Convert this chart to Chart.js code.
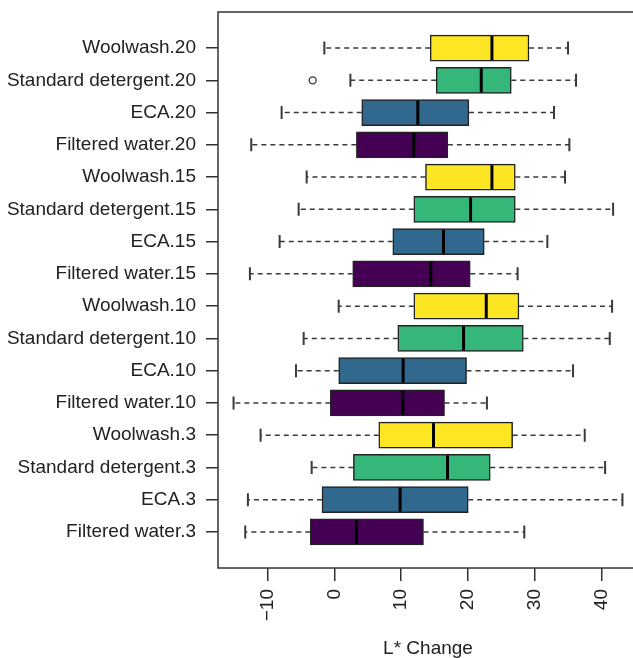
<!DOCTYPE html>
<html>
<head>
<meta charset="utf-8">
<script src="https://cdn.jsdelivr.net/npm/chart.js@4/dist/chart.umd.min.js"></script>
<style>
  html, body { margin: 0; padding: 0; background: #fff; overflow: hidden; }
  canvas { display: block; }
</style>
</head>
<body>
<canvas id="boxChart" width="650" height="658"></canvas>
<script>
// rows from bottom to top
const categories = [
  'Filtered water.3', 'ECA.3', 'Standard detergent.3', 'Woolwash.3',
  'Filtered water.10', 'ECA.10', 'Standard detergent.10', 'Woolwash.10',
  'Filtered water.15', 'ECA.15', 'Standard detergent.15', 'Woolwash.15',
  'Filtered water.20', 'ECA.20', 'Standard detergent.20', 'Woolwash.20'
];
const whiskerLow  = [-13.35, -12.95, -3.4, -11.05, -15.1, -5.75, -4.6, 0.65, -12.65, -8.2, -5.35, -4.15, -12.45, -7.9, 2.4, -1.5];
const q1          = [-3.6, -1.85, 2.85, 6.65, -0.6, 0.65, 9.5, 11.9, 2.75, 8.75, 11.9, 13.65, 3.3, 4.1, 15.25, 14.35];
const medians     = [3.3, 9.85, 16.95, 14.85, 10.25, 10.3, 19.35, 22.75, 14.45, 16.35, 20.4, 23.6, 11.9, 12.5, 22.0, 23.6];
const q3          = [13.35, 20.05, 23.35, 26.7, 16.5, 19.8, 28.3, 27.65, 20.35, 22.45, 27.1, 27.1, 17.0, 20.15, 26.5, 29.15];
const whiskerHigh = [28.45, 43.15, 40.55, 37.5, 22.85, 35.75, 41.25, 41.6, 27.45, 31.9, 41.75, 34.55, 35.2, 32.9, 36.2, 35.0];
const outlierValues = [-3.25];
const outlierRows   = ['Standard detergent.20'];
const xTicks = [-10, 0, 10, 20, 30, 40];

const treatments = ['Filtered water', 'ECA', 'Standard detergent', 'Woolwash'];
const palette = ['#440154', '#31688E', '#35B779', '#FDE725'];

const rowPos = categories.map((c, i) => i + 1);
const boxColors = categories.map(c => palette[treatments.indexOf(c.split('.')[0])]);

const boxPlugin = {
  id: 'boxParts',
  beforeDatasetsDraw(chart) {
    const ctx = chart.ctx, xs = chart.scales.x, ys = chart.scales.y;
    ctx.save();
    ctx.strokeStyle = '#3a3a3a';
    rowPos.forEach((p, i) => {
      const y = ys.getPixelForValue(p);
      const a = xs.getPixelForValue(q1[i]), lo = xs.getPixelForValue(whiskerLow[i]);
      const b = xs.getPixelForValue(q3[i]), hi = xs.getPixelForValue(whiskerHigh[i]);
      ctx.lineWidth = 1.5;
      ctx.setLineDash([5, 4]);
      ctx.beginPath();
      ctx.moveTo(a, y); ctx.lineTo(lo, y);
      ctx.moveTo(b, y); ctx.lineTo(hi, y);
      ctx.stroke();
      ctx.setLineDash([]);
      ctx.lineWidth = 2;
      ctx.beginPath();
      ctx.moveTo(lo, y - 6.5); ctx.lineTo(lo, y + 6.5);
      ctx.moveTo(hi, y - 6.5); ctx.lineTo(hi, y + 6.5);
      ctx.stroke();
    });
    ctx.restore();
  },
  afterDatasetsDraw(chart) {
    const ctx = chart.ctx, xs = chart.scales.x, ys = chart.scales.y;
    ctx.save();
    ctx.strokeStyle = '#000';
    ctx.lineWidth = 3;
    rowPos.forEach((p, i) => {
      const y = ys.getPixelForValue(p);
      const m = xs.getPixelForValue(medians[i]);
      ctx.beginPath();
      ctx.moveTo(m, y - 12); ctx.lineTo(m, y + 12);
      ctx.stroke();
    });
    // plot frame
    const ca = chart.chartArea;
    ctx.strokeStyle = '#333';
    ctx.lineWidth = 1.5;
    ctx.strokeRect(ca.left, ca.top, ca.right - ca.left, ca.bottom - ca.top);
    ctx.restore();
  }
};

const font = { family: "'Liberation Sans', Arial, sans-serif", size: 19 };

function noPad(axis) {
  axis.paddingTop = 0; axis.paddingBottom = 0;
  axis.paddingLeft = 0; axis.paddingRight = 0;
}

new Chart(document.getElementById('boxChart').getContext('2d'), {
  type: 'bar',
  data: {
    datasets: [{
      type: 'bar',
      data: rowPos.map((p, i) => ({ x: [q1[i], q3[i]], y: p })),
      backgroundColor: boxColors,
      borderColor: '#222',
      borderWidth: 1.5,
      borderSkipped: false,
      barThickness: 26
    }, {
      type: 'scatter',
      data: outlierValues.map((v, i) => ({ x: v, y: categories.indexOf(outlierRows[i]) + 1 })),
      pointStyle: 'circle',
      radius: 3.5,
      backgroundColor: '#fff',
      borderColor: '#333',
      borderWidth: 1.3
    }]
  },
  options: {
    indexAxis: 'y',
    responsive: false,
    animation: false,
    layout: { padding: { top: 12, right: 12, left: 0, bottom: 0 } },
    plugins: { legend: { display: false }, tooltip: { enabled: false } },
    scales: {
      x: {
        type: 'linear',
        min: -17.43,
        max: 45.48,
        offset: false,
        afterBuildTicks: axis => { axis.ticks = xTicks.map(v => ({ value: v })); },
        afterFit: axis => { axis.height = 90; noPad(axis); },
        border: { display: false },
        grid: { offset: false, drawOnChartArea: false, drawTicks: true, tickLength: 13, color: '#333', lineWidth: 1.5 },
        ticks: {
          minRotation: 90, maxRotation: 90, padding: 8,
          color: '#222', font: font,
          callback: v => v < 0 ? '\u2212' + Math.abs(v) : String(v)
        },
        title: {
          display: true, text: 'L* Change', color: '#222',
          font: { family: font.family, size: 19, lineHeight: 1 },
          padding: { top: 4, bottom: 0 }
        }
      },
      y: {
        type: 'linear',
        min: -0.12,
        max: 17.12,
        offset: false,
        afterBuildTicks: axis => { axis.ticks = rowPos.map(v => ({ value: v })); },
        afterFit: axis => { axis.width = 218; noPad(axis); },
        border: { display: false },
        grid: { offset: false, drawOnChartArea: false, drawTicks: true, tickLength: 12, color: '#333', lineWidth: 1.5 },
        ticks: {
          padding: 10, color: '#222', font: font,
          callback: v => categories[v - 1]
        }
      }
    }
  },
  plugins: [boxPlugin]
});
</script>
</body>
</html>
